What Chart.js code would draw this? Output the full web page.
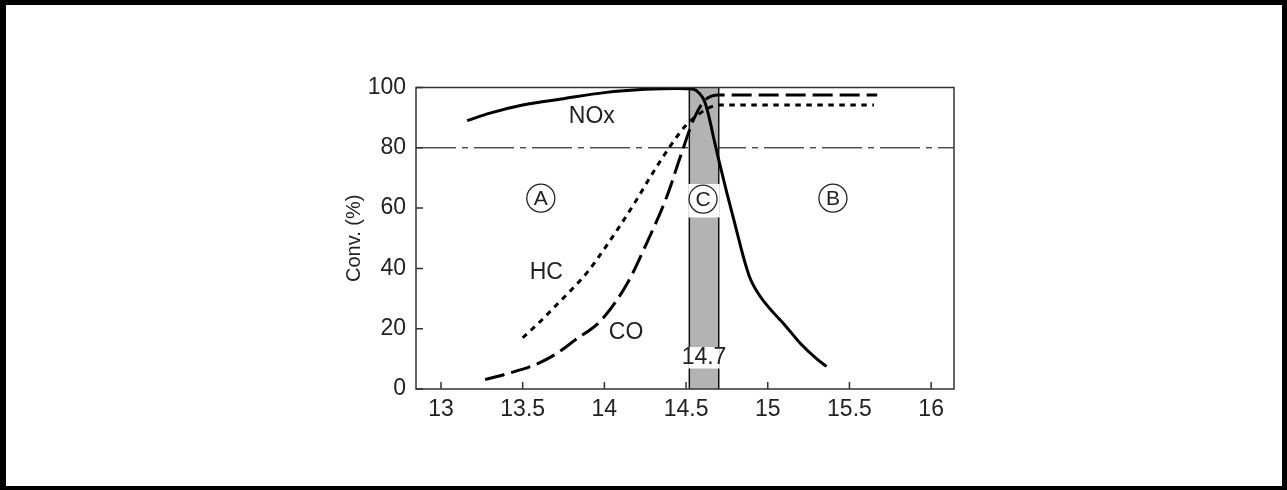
<!DOCTYPE html>
<html>
<head>
<meta charset="utf-8">
<script src="https://cdn.jsdelivr.net/npm/chart.js@4"></script>
<style>
body{margin:0;background:#fff;}
#wrap{position:relative;width:1287px;height:490px;}
#frame{position:absolute;left:0;top:0;width:1287px;height:490px;box-sizing:border-box;border:solid #000;border-width:5px 5px 4px 6px;pointer-events:none;}
canvas{position:absolute;left:0;top:0;}
</style>
</head>
<body>
<div id="wrap"><canvas id="myChart" width="1287" height="490"></canvas><div id="frame"></div></div>
<script>
const xTicks = [13, 13.5, 14, 14.5, 15, 15.5, 16];
const yTicks = [0, 20, 40, 60, 80, 100];

// air-fuel ratio / conversion curves
const noxX = [13.16, 13.3, 13.5, 13.75, 14.0, 14.25, 14.45, 14.54, 14.58, 14.61, 14.63, 14.65, 14.67, 14.70, 14.75, 14.80, 14.85, 14.89, 14.95, 15.04, 15.1, 15.2, 15.3, 15.36];
const noxY = [89, 91.5, 94.2, 96.3, 98.3, 99.4, 99.7, 99.5, 98.2, 95.8, 92.5, 88, 83, 76, 65, 54.5, 44, 37, 31, 25, 21.5, 15.1, 10, 7.5];

const hcX = [13.5, 13.6, 13.7, 13.8, 13.9, 14.0, 14.1, 14.2, 14.3, 14.4, 14.5, 14.6, 14.65, 14.70, 15.65];
const hcY = [17, 22, 27.5, 33, 39, 46.5, 54.5, 63, 72, 80.3, 87.5, 92, 93.5, 94.2, 94.2];

const coX = [13.27, 13.4, 13.57, 13.7, 13.82, 13.98, 14.14, 14.26, 14.38, 14.465, 14.547, 14.61, 14.66, 14.70, 15.67];
const coY = [3.1, 5, 7.9, 11.5, 16.2, 22.8, 35, 48.5, 63.5, 77, 89.5, 95.5, 97.2, 97.5, 97.5];

const limitValue = 80;
const bandFrom = 14.52, bandTo = 14.70;

const curveNames = ['NOx', 'HC', 'CO'];
const curveLabelX = [13.923, 13.645, 14.133];
const curveLabelY = [90.4, 38.7, 18.8];

const regionNames = ['A', 'B', 'C'];
const regionX = [13.611, 15.399, 14.604];
const regionY = [63.3, 63.3, 63];

const stoichText = '14.7';
const stoichY = 10.3;

const FONT = '"Liberation Sans", Arial, Helvetica, sans-serif';
Chart.defaults.font.family = FONT;

function pts(xs, ys) {
	return xs.map((v, i) => ({x: v, y: ys[i]}));
}

const decor = {
	id: 'decor',
	beforeDatasetsDraw(chart) {
		const {ctx, chartArea: a, scales: {x, y}} = chart;
		ctx.save();
		// 80 % dash-dot line
		const yy = y.getPixelForValue(limitValue);
		ctx.beginPath();
		ctx.setLineDash([40, 6, 6, 6]);
		ctx.lineWidth = 1;
		ctx.strokeStyle = '#000';
		ctx.moveTo(a.left, yy);
		ctx.lineTo(a.right, yy);
		ctx.stroke();
		ctx.setLineDash([]);

		// window band
		const x0 = x.getPixelForValue(bandFrom), x1 = x.getPixelForValue(bandTo);
		ctx.fillStyle = '#b3b3b3';
		ctx.fillRect(x0, a.top, x1 - x0, a.bottom - a.top);
		ctx.strokeStyle = '#111';
		ctx.lineWidth = 1.5;
		ctx.beginPath();
		ctx.moveTo(x0, a.top); ctx.lineTo(x0, a.bottom);
		ctx.moveTo(x1, a.top); ctx.lineTo(x1, a.bottom);
		ctx.stroke();

		// white boxes inside the band
		ctx.fillStyle = '#fff';
		let t = y.getPixelForValue(68), b = y.getPixelForValue(56.9);
		ctx.fillRect(x0 - 1, t, x1 - x0 + 2, b - t);
		t = y.getPixelForValue(13.9); b = y.getPixelForValue(6.8);
		ctx.fillRect(x0 - 1, t, x1 - x0 + 2, b - t);

		ctx.fillStyle = '#222';
		ctx.textAlign = 'center';
		ctx.textBaseline = 'middle';
		ctx.font = '23px ' + FONT;
		for (let i = 0; i < curveNames.length; i++) {
			ctx.fillText(curveNames[i], x.getPixelForValue(curveLabelX[i]), y.getPixelForValue(curveLabelY[i]));
		}
		ctx.fillText(stoichText, x.getPixelForValue((bandFrom + bandTo) / 2), y.getPixelForValue(stoichY));

		// circled region letters
		ctx.font = '21px ' + FONT;
		ctx.strokeStyle = '#222';
		ctx.lineWidth = 1.3;
		for (let i = 0; i < regionNames.length; i++) {
			const cx = x.getPixelForValue(regionX[i]), cy = y.getPixelForValue(regionY[i]);
			ctx.beginPath();
			ctx.arc(cx, cy, 14, 0, Math.PI * 2);
			ctx.stroke();
			ctx.fillText(regionNames[i], cx, cy + 1);
		}
		ctx.restore();
	},
	afterDraw(chart) {
		const {ctx, chartArea: a, scales: {x, y}} = chart;
		ctx.save();
		ctx.strokeStyle = '#333';
		ctx.lineWidth = 1.5;
		ctx.strokeRect(a.left, a.top, a.right - a.left, a.bottom - a.top);
		ctx.beginPath();
		xTicks.forEach(v => {
			const p = x.getPixelForValue(v);
			ctx.moveTo(p, a.bottom); ctx.lineTo(p, a.bottom - 7);
		});
		yTicks.forEach(v => {
			const p = y.getPixelForValue(v);
			ctx.moveTo(a.left, p); ctx.lineTo(a.left + 7, p);
		});
		ctx.stroke();
		ctx.restore();
	}
};

const ctx = document.getElementById('myChart');

const myChart = new Chart(ctx, {
	type: 'line',
	data: {
		datasets: [
			{
				label: 'NOx',
				data: pts(noxX, noxY),
				borderColor: '#000',
				borderWidth: 3,
				pointRadius: 0,
				cubicInterpolationMode: 'monotone'
			},
			{
				label: 'HC',
				data: pts(hcX, hcY),
				borderColor: '#000',
				borderWidth: 3,
				borderDash: [5.5, 5.5],
				pointRadius: 0,
				cubicInterpolationMode: 'monotone'
			},
			{
				label: 'CO',
				data: pts(coX, coY),
				borderColor: '#000',
				borderWidth: 3,
				borderDash: [20, 7],
				pointRadius: 0,
				cubicInterpolationMode: 'monotone'
			}
		]
	},
	options: {
		responsive: false,
		animation: false,
		layout: {
			padding: {left: 336, right: 333, top: 87.5, bottom: 61}
		},
		scales: {
			x: {
				type: 'linear',
				min: 12.847,
				max: 16.14,
				afterBuildTicks: (s) => { s.ticks = xTicks.map(v => ({value: v})); },
				afterFit: (s) => { s.height = 40; },
				grid: {display: false, drawTicks: false},
				border: {display: false},
				ticks: {
					color: '#222',
					font: {size: 23},
					padding: 7,
					maxRotation: 0,
					callback: (v) => String(v)
				}
			},
			y: {
				min: 0,
				max: 100,
				afterBuildTicks: (s) => { s.ticks = yTicks.map(v => ({value: v})); },
				afterFit: (s) => { s.width = 80; },
				grid: {display: false, drawTicks: false},
				border: {display: false},
				ticks: {
					color: '#222',
					font: {size: 23},
					padding: 10
				},
				title: {
					display: true,
					text: 'Conv. (%)',
					color: '#222',
					font: {size: 20},
					padding: {top: 6, bottom: 0}
				}
			}
		},
		plugins: {
			legend: {display: false},
			tooltip: {enabled: false}
		}
	},
	plugins: [decor]
});
</script>
</body>
</html>
